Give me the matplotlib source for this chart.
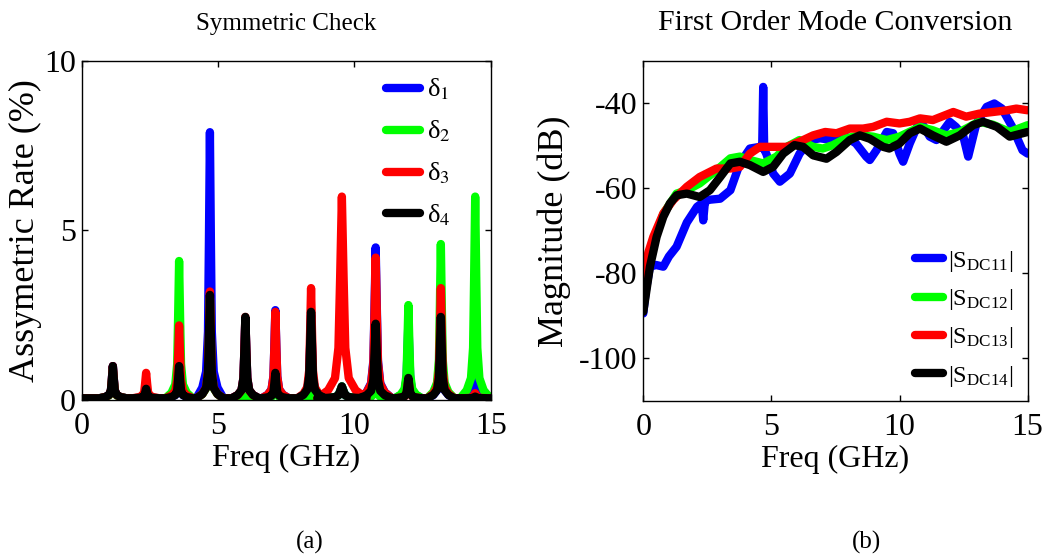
import numpy as np
import matplotlib
matplotlib.use('Agg')
import matplotlib.pyplot as plt

plt.rcParams['font.family'] = ['Liberation Serif', 'DejaVu Serif']
plt.rcParams['mathtext.fontset'] = 'stix'
plt.rcParams['axes.unicode_minus'] = False

# ---- (a) symmetric check: resonance peaks (GHz, %) ----
PEAK_F = [1.14, 2.36, 3.57, 4.70, 6.00, 7.10, 8.41, 9.54, 10.78, 11.98, 13.17, 14.43]
PEAK_W = [1.0, 1.0, 1.0, 1.0, 1.0, 1.0, 1.0, 1.8, 1.2, 1.0, 1.0, 1.1]
DELTA1 = [1.0, 0.3, 1.0, 7.9, 2.4, 2.65, 2.5, 0.4, 4.5, 2.3, 2.4, 0.7]
DELTA2 = [0.9, 0.3, 4.1, 3.0, 0.1, 0.5, 0.3, 0.4, 0.5, 2.8, 4.6, 6.0]
DELTA3 = [1.0, 0.8, 2.2, 3.2, 2.45, 2.6, 3.3, 6.0, 4.2, 0.6, 3.3, 0.2]
DELTA4 = [1.0, 0.33, 1.0, 3.1, 2.45, 0.8, 2.6, 0.4, 2.25, 0.65, 2.45, 0.1]
BASE = 0.05
# peak profile: offset (GHz) and fraction of the peak height
SHAPE_DF = [-0.5, -0.28, -0.14, -0.07, -0.035, 0.0, 0.035, 0.07, 0.14, 0.28, 0.5]
SHAPE_FR = [0.0, 0.04, 0.1, 0.25, 0.6, 1.0, 0.6, 0.25, 0.1, 0.04, 0.0]

# ---- (b) first order mode conversion (GHz, dB) ----
F11 = [0, 0.1, 0.26, 0.5, 0.78, 1.0, 1.3, 1.7, 2.1, 2.28, 2.34, 2.4, 2.5, 3.0, 3.4, 3.77,
       4.16, 4.55, 4.64, 4.68, 4.72, 4.8, 5.07, 5.33, 5.72, 6.1, 6.5, 6.9, 7.4, 7.9, 8.3,
       8.7, 8.84, 9.1, 9.5, 9.75, 10.0, 10.14, 10.4, 10.8, 11.18, 11.44, 11.96, 12.2, 12.48,
       12.68, 13.0, 13.4, 13.7, 14.0, 14.4, 14.8, 15]
S11 = [-89.4, -84, -78.4, -78, -78.4, -76, -73.7, -68, -64.3, -63.5, -67.5, -63.5, -62.7,
       -62.4, -60.4, -54.1, -50.6, -50.2, -50.5, -36.1, -50.8, -51.8, -56.5, -58.4, -56.5,
       -51.8, -48.6, -48.2, -48.6, -47.8, -49.4, -52.5, -53.3, -51, -46.7, -47, -51.8, -53.7,
       -49.4, -43.9, -47.8, -48.6, -44.3, -45.5, -47.5, -52.5, -44.7, -40.8, -40, -41.2,
       -45.5, -51, -51.8]
F12 = [0, 0.1, 0.2, 0.39, 0.78, 1.3, 1.7, 2.2, 2.86, 3.4, 3.77, 4.16, 4.68, 5.2, 5.6, 6.1,
       6.63, 7.0, 7.4, 7.9, 8.45, 8.97, 9.5, 10.0, 10.8, 11.3, 11.83, 12.35, 13.1, 13.65,
       14.3, 15]
S12 = [-85, -79, -76, -73, -66, -61.2, -60.4, -58.8, -55.7, -52.9, -52.5, -53.3, -54.1,
       -52.5, -50.2, -48.6, -50.2, -50.6, -49.8, -48.2, -47.5, -47.8, -48.6, -47.8, -45.5,
       -46.3, -47.5, -46.7, -44.3, -45, -46.7, -45.1]
F13 = [0, 0.1, 0.2, 0.39, 0.78, 1.17, 1.7, 2.2, 2.86, 3.4, 3.77, 4.16, 4.55, 5.07, 5.6,
       6.1, 6.63, 7.1, 7.54, 8.06, 8.58, 8.97, 9.5, 10.0, 10.4, 10.8, 11.3, 12.1, 12.6,
       13.1, 13.65, 14.2, 14.56, 15]
S13 = [-84, -78, -75, -71.4, -65.9, -62.7, -59.6, -57.3, -55.3, -55.3, -54.9, -51.8, -50.2,
       -50.2, -50.2, -49, -47.5, -46.7, -47, -45.9, -45.9, -45.5, -44.3, -44.7, -44.3, -43.5,
       -43.9, -42, -43.1, -42.4, -42, -41.6, -41.2, -41.6]
F14 = [0, 0.05, 0.26, 0.52, 0.78, 1.04, 1.3, 1.7, 2.2, 2.6, 3.0, 3.4, 3.77, 4.16, 4.68,
       5.07, 5.46, 5.9, 6.24, 6.63, 7.15, 7.54, 8.06, 8.45, 8.84, 9.36, 9.6, 10.0, 10.4,
       10.8, 11.3, 11.83, 12.35, 12.87, 13.26, 13.8, 14.3, 15]
S14 = [-89, -87, -78.4, -71.4, -66.7, -63.5, -61.6, -61.2, -62, -60.4, -57.3, -54.1, -53.7,
       -54.5, -56.1, -54.9, -51.8, -49.8, -50.2, -52.2, -53, -51.4, -48.6, -47.5, -48.3,
       -50.2, -50.6, -49.4, -47, -45.9, -47.5, -49, -47.5, -45.1, -44.3, -45.5, -47.8, -46.7]

COLORS = ['#0000ff', '#00ff00', '#ff0000', '#000000']


def peak_line(heights):
    xs, ys = [0.0], [BASE]
    for f, w, h in zip(PEAK_F, PEAK_W, heights):
        for df, fr in zip(SHAPE_DF, SHAPE_FR):
            xs.append(f + df * w)
            ys.append(BASE + (h - BASE) * fr)
    xs.append(15.0)
    ys.append(BASE)
    return xs, ys


def style_axes(ax):
    ax.tick_params(direction='in', top=True, right=True, length=4, width=1,
                   labelsize=23)
    ax.tick_params(axis='x', pad=9)
    ax.tick_params(axis='y', pad=4)
    for s in ax.spines.values():
        s.set_linewidth(1)


fig = plt.figure(figsize=(10.47, 5.57), dpi=100)
ax1 = fig.add_axes([0.0781, 0.2819, 0.3906, 0.6086])
ax2 = fig.add_axes([0.6144, 0.2801, 0.3671, 0.6104])

lw = 6
kw = dict(lw=lw, solid_joinstyle='round', solid_capstyle='round')

labels_a = ['δ$_{1}$', 'δ$_{2}$', 'δ$_{3}$', 'δ$_{4}$']
for heights, c, lab in zip([DELTA1, DELTA2, DELTA3, DELTA4], COLORS, labels_a):
    xs, ys = peak_line(heights)
    ax1.plot(xs, ys, color=c, label=lab, **kw)
ax1.set_xlim(0, 15)
ax1.set_ylim(0, 10)
ax1.set_xticks([0, 5, 10, 15])
ax1.set_yticks([0, 5, 10])
style_axes(ax1)
ax1.set_xlabel('Freq (GHz)', fontsize=23, labelpad=2)
ax1.set_ylabel('Assymetric Rate (%)', fontsize=26, labelpad=2)
ax1.set_title('Symmetric Check', fontsize=18, pad=22)
ax1.legend(loc='upper right', bbox_to_anchor=(0.94, 1.0), frameon=False, fontsize=19,
           handlelength=1.3, handletextpad=0.25, labelspacing=0.62, borderaxespad=0.2)

labels_b = ['|S$_{\\mathregular{DC11}}$|', '|S$_{\\mathregular{DC12}}$|',
            '|S$_{\\mathregular{DC13}}$|', '|S$_{\\mathregular{DC14}}$|']
for f, s, c, lab in zip([F11, F12, F13, F14], [S11, S12, S13, S14], COLORS, labels_b):
    ax2.plot(f, s, color=c, label=lab, **kw)
ax2.set_xlim(0, 15)
ax2.set_ylim(-110, -30)
ax2.set_xticks([0, 5, 10, 15])
ax2.set_yticks([-100, -80, -60, -40])
style_axes(ax2)
ax2.set_xlabel('Freq (GHz)', fontsize=23, labelpad=2)
ax2.set_ylabel('Magnitude (dB)', fontsize=26, labelpad=6)
ax2.set_title('First Order Mode Conversion', fontsize=21.5, pad=22)
ax2.legend(loc='lower right', bbox_to_anchor=(0.995, 0.0), frameon=False, fontsize=17.5,
           handlelength=1.15, handletextpad=0.2, labelspacing=0.55, borderaxespad=0.1)

fig.text(0.296, 0.005, '(a)', fontsize=18, ha='center', va='bottom')
fig.text(0.828, 0.005, '(b)', fontsize=18, ha='center', va='bottom')

fig.savefig('out.png', dpi=100)
